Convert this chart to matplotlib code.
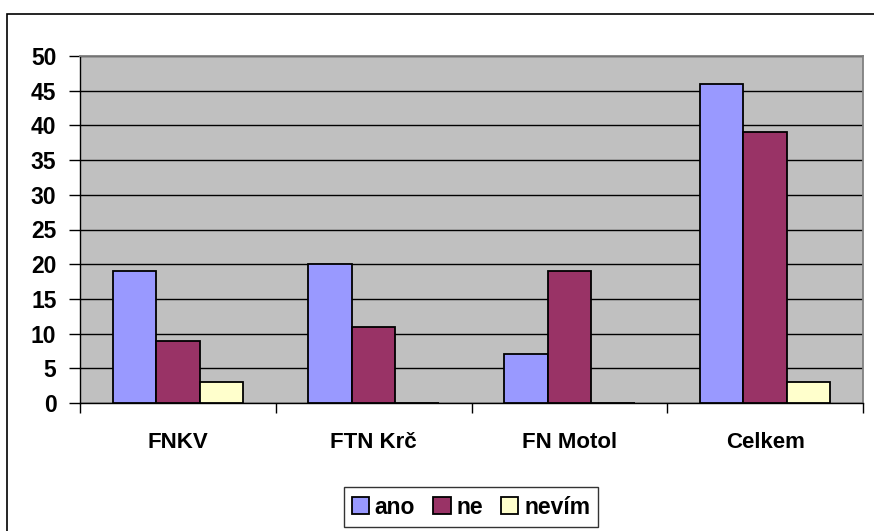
import numpy as np
import matplotlib.pyplot as plt
from matplotlib.patches import Rectangle

plt.rcParams['font.family'] = ['Liberation Sans', 'DejaVu Sans']
plt.rcParams['font.weight'] = 'bold'

categories = ['FNKV', 'FTN Krč', 'FN Motol', 'Celkem']
ano = [19, 20, 7, 46]
ne = [9, 11, 19, 39]
nevim = [3, 0, 0, 3]
series_names = ['ano', 'ne', 'nevím']
colors = ['#9999FF', '#993366', '#FFFFCC']

fig = plt.figure(figsize=(8.74, 5.31), dpi=100)
ax = fig.add_axes([80 / 874, 1 - 403 / 531, 783 / 874, 347 / 531])
ax.set_facecolor('#C0C0C0')

x = np.arange(len(categories))
w = 1 / 4.5
for i, (vals, name, c) in enumerate(zip([ano, ne, nevim], series_names, colors)):
    ax.bar(x + (i - 1) * w, vals, width=w, color=c, edgecolor='black',
           linewidth=1.3, label=name, zorder=3)

ax.set_xlim(-0.5, len(categories) - 0.5)
ax.set_ylim(0, 50)
ax.set_yticks(range(0, 51, 5))
ax.yaxis.grid(True, color='black', linewidth=1, zorder=1)

# category boundaries as major ticks, labels on minor ticks
ax.set_xticks(np.arange(len(categories) + 1) - 0.5)
ax.set_xticklabels([])
ax.set_xticks(x, minor=True)
ax.set_xticklabels(categories, minor=True)
ax.tick_params(axis='x', which='major', length=7, width=1, color='black')
ax.tick_params(axis='x', which='minor', length=0, pad=21, labelsize=16)
ax.tick_params(axis='y', length=8, width=1, labelsize=16.5, pad=9)

for s in ax.spines.values():
    s.set_color('#808080')
    s.set_linewidth(1.3)
ax.spines['bottom'].set_color('black')
ax.spines['bottom'].set_linewidth(1)
ax.spines['left'].set_color('black')
ax.spines['left'].set_linewidth(1)

leg = ax.legend(loc='center', bbox_to_anchor=(471 / 874, 1 - 507 / 531),
                bbox_transform=fig.transFigure, ncol=3, frameon=True,
                fancybox=False, edgecolor='black', fontsize=16.5,
                handlelength=0.75, handleheight=0.75, handletextpad=0.25,
                columnspacing=0.8, borderpad=0.35)
leg.get_frame().set_linewidth(1)

# chart area border
fig.add_artist(Rectangle((7 / 874, -0.1), 1.2, 1 - 14 / 531 + 0.1,
                         transform=fig.transFigure, fill=False,
                         edgecolor='black', linewidth=1.2))

fig.savefig('out.png', dpi=100)
